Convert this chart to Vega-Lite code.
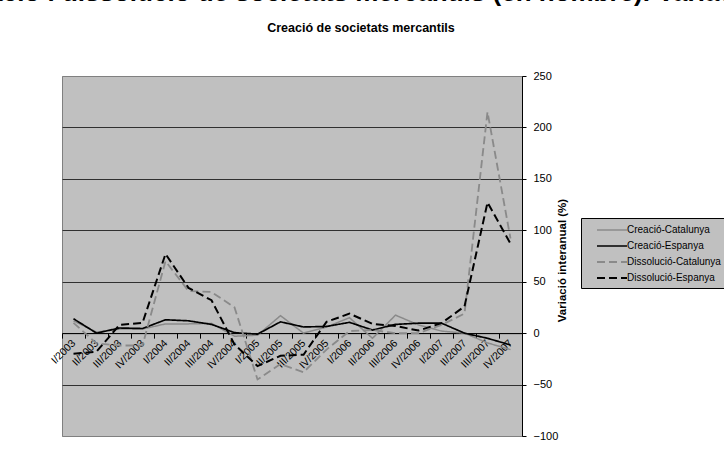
{
  "$schema": "https://vega.github.io/schema/vega-lite/v6.json",
  "autosize": {"type": "none"},
  "padding": {"left": 62, "top": 76, "right": 202, "bottom": 14},
  "width": 460,
  "height": 360,
  "background": "white",
  "title": {
    "text": "Gràfic 3. Creació i dissolució de societats mercantils (en nombre). Variació interanual",
    "subtitle": "Creació de societats mercantils",
    "font": "Liberation Sans",
    "fontSize": 26,
    "fontWeight": "bold",
    "color": "black",
    "subtitleFont": "Liberation Sans",
    "subtitleFontSize": 12.5,
    "subtitleFontWeight": "bold",
    "subtitleColor": "black",
    "subtitlePadding": 16,
    "anchor": "middle",
    "frame": "group",
    "dx": 69,
    "offset": 36
  },
  "data": {
    "values": [
      {"q": "I/2003", "CC": 12, "CE": 14, "DC": 10, "DE": -20},
      {"q": "II/2003", "CC": 1, "CE": 0, "DC": -10, "DE": -18},
      {"q": "III/2003", "CC": 4, "CE": 5, "DC": -12, "DE": 8},
      {"q": "IV/2003", "CC": 4, "CE": 4.5, "DC": -12, "DE": 10},
      {"q": "I/2004", "CC": 9, "CE": 13, "DC": 70, "DE": 77},
      {"q": "II/2004", "CC": 9, "CE": 12, "DC": 41, "DE": 44},
      {"q": "III/2004", "CC": 9.5, "CE": 8.5, "DC": 40, "DE": 32},
      {"q": "IV/2004", "CC": -3, "CE": 0.5, "DC": 25, "DE": -11},
      {"q": "I/2005", "CC": -2, "CE": -1, "DC": -45, "DE": -32},
      {"q": "II/2005", "CC": 17, "CE": 11, "DC": -30, "DE": -22},
      {"q": "III/2005", "CC": 0, "CE": 6, "DC": -38, "DE": -21},
      {"q": "IV/2005", "CC": 6, "CE": 6.5, "DC": -16, "DE": 11},
      {"q": "I/2006", "CC": 15, "CE": 10.5, "DC": 2, "DE": 19},
      {"q": "II/2006", "CC": -5, "CE": 3, "DC": 3, "DE": 9},
      {"q": "III/2006", "CC": 17.5, "CE": 8.5, "DC": 0, "DE": 7},
      {"q": "IV/2006", "CC": 8, "CE": 9.7, "DC": 0, "DE": 2.5},
      {"q": "I/2007", "CC": 2, "CE": 9.7, "DC": 8, "DE": 9.7},
      {"q": "II/2007", "CC": 0, "CE": 0, "DC": 19, "DE": 26},
      {"q": "III/2007", "CC": -9.5, "CE": -5, "DC": 215, "DE": 127},
      {"q": "IV/2007", "CC": -16, "CE": -11.5, "DC": 92, "DE": 87}
    ]
  },
  "transform": [
    {"fold": ["CC", "CE", "DC", "DE"], "as": ["key", "v"]},
    {"lookup": "key", "from": {"data": {"values": [
      {"key": "CC", "serie": "Creació-Catalunya"},
      {"key": "CE", "serie": "Creació-Espanya"},
      {"key": "DC", "serie": "Dissolució-Catalunya"},
      {"key": "DE", "serie": "Dissolució-Espanya"}
    ]}, "key": "key", "fields": ["serie"]}}
  ],
  "mark": {"type": "line", "clip": true},
  "encoding": {
    "x": {
      "field": "q",
      "type": "nominal",
      "sort": null,
      "scale": {"type": "band", "paddingInner": 0, "paddingOuter": 0},
      "axis": {
        "orient": "bottom",
        "offset": -102.86,
        "title": null,
        "grid": false,
        "domainColor": "black",
        "domainWidth": 1,
        "tickColor": "black",
        "tickSize": 5,
        "tickBand": "extent",
        "labelAngle": -45,
        "labelAlign": "right",
        "labelBaseline": "middle",
        "labelFont": "Liberation Sans",
        "labelFontSize": 10.5,
        "labelColor": "black",
        "labelPadding": 3,
        "labelOverlap": false
      }
    },
    "y": {
      "field": "v",
      "type": "quantitative",
      "scale": {"domain": [-100, 250], "nice": false, "zero": false},
      "axis": {
        "orient": "right",
        "values": [-100, -50, 0, 50, 100, 150, 200, 250],
        "grid": true,
        "gridColor": {"condition": {"test": "datum.value == 250 || datum.value == -100", "value": "#808080"}, "value": "#303030"},
        "gridWidth": 1,
        "domainColor": "black",
        "tickColor": "black",
        "tickSize": 4,
        "labelPadding": 7,
        "labelFont": "Liberation Sans",
        "labelFontSize": 11,
        "labelColor": "black",
        "title": "Variació interanual (%)",
        "titleFont": "Liberation Sans",
        "titleFontSize": 11.5,
        "titleFontWeight": "bold",
        "titleColor": "black",
        "titleAngle": 270,
        "titleAlign": "center",
        "titleBaseline": "middle",
        "titleX": 40,
        "titleY": 184
      }
    },
    "color": {
      "field": "serie",
      "type": "nominal",
      "scale": {
        "domain": ["Creació-Catalunya", "Creació-Espanya", "Dissolució-Catalunya", "Dissolució-Espanya"],
        "range": ["#8a8a8a", "#000000", "#8a8a8a", "#000000"]
      },
      "legend": {
        "orient": "none",
        "legendX": 519,
        "legendY": 142,
        "title": null,
        "fillColor": "#c0c0c0",
        "strokeColor": "black",
        "padding": 5,
        "symbolType": "M-2.5,0H2.5",
        "symbolSize": 144,
        "symbolStrokeWidth": 2,
        "symbolOffset": 19,
        "labelFont": "Liberation Sans",
        "labelFontSize": 10,
        "labelColor": "black",
        "labelOffset": 8,
        "rowPadding": 4
      }
    },
    "strokeDash": {
      "field": "serie",
      "type": "nominal",
      "scale": {
        "domain": ["Creació-Catalunya", "Creació-Espanya", "Dissolució-Catalunya", "Dissolució-Espanya"],
        "range": [[1, 0], [1, 0], [8, 4], [8, 4]]
      }
    },
    "strokeWidth": {
      "field": "serie",
      "type": "nominal",
      "scale": {
        "domain": ["Creació-Catalunya", "Creació-Espanya", "Dissolució-Catalunya", "Dissolució-Espanya"],
        "range": [1.5, 2, 2, 2]
      }
    }
  },
  "config": {
    "font": "Liberation Sans",
    "view": {"fill": "#c0c0c0", "stroke": "#808080", "strokeWidth": 1}
  }
}
